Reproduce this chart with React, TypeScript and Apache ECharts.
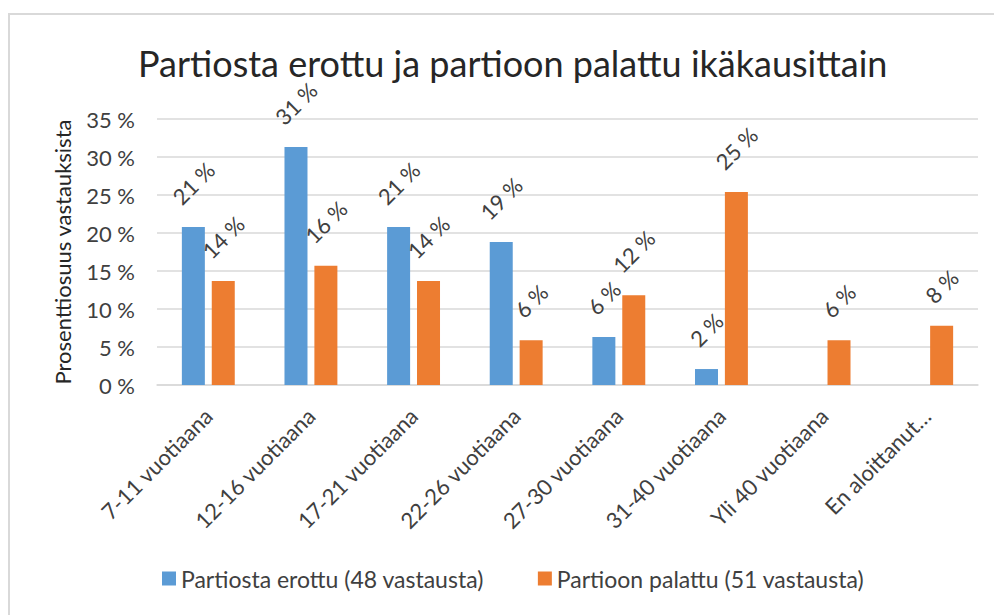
import React, { useEffect, useRef } from "react";
import * as echarts from "echarts";

const categories = [
  "7-11 vuotiaana",
  "12-16 vuotiaana",
  "17-21 vuotiaana",
  "22-26 vuotiaana",
  "27-30 vuotiaana",
  "31-40 vuotiaana",
  "Yli 40 vuotiaana",
  "En aloittanut…",
];
const erottu: (number | null)[] = [20.8, 31.3, 20.8, 18.8, 6.3, 2.1, null, null];
const palattu: (number | null)[] = [13.7, 15.7, 13.7, 5.9, 11.8, 25.4, 5.9, 7.8];
const seriesNames = ["Partiosta erottu (48 vastausta)", "Partioon palattu (51 vastausta)"];
const yMin = 0;
const yMax = 35;
const yStep = 5;

const FONT = "Lato, 'Noto Sans', sans-serif";
const LABEL_SIZE = 22;

function measure(text: string, size: number): number {
  const c = document.createElement("canvas");
  const ctx = c.getContext("2d");
  if (!ctx) return text.length * size * 0.5;
  ctx.font = `${size}px Lato`;
  return ctx.measureText(text).width;
}

const fmt = (v: number) => `${Math.round(v)} %`;

function buildData(values: (number | null)[]) {
  return values.map((v) => {
    if (v === null) return { value: null };
    const w = measure(fmt(v), LABEL_SIZE);
    return {
      value: v,
      label: { distance: 21 + 0.354 * (w + 0.7 * LABEL_SIZE) },
    };
  });
}

export default function App() {
  const ref = useRef<HTMLDivElement>(null);
  useEffect(() => {
    if (!ref.current) return;
    const chart = echarts.init(ref.current, undefined, { renderer: "svg" });
    const labelCfg = {
      show: true,
      position: "top",
      rotate: 45,
      align: "center",
      verticalAlign: "middle",
      fontFamily: FONT,
      fontSize: LABEL_SIZE,
      color: "#404040",
      formatter: (p: any) => (p.value == null ? "" : fmt(p.value)),
    };
    chart.setOption({
      animation: false,
      backgroundColor: "#ffffff",
      textStyle: { fontFamily: FONT },
      graphic: [
        {
          type: "rect",
          shape: { x: 9, y: 14, width: 1000, height: 620 },
          style: { fill: "none", stroke: "#d9d9d9", lineWidth: 2 },
          silent: true,
        },
      ],
      title: {
        text: "Partiosta erottu ja partioon palattu ikäkausittain",
        left: 133,
        top: 40,
        textStyle: { fontFamily: FONT, fontSize: 36, fontWeight: "normal", color: "#262626" },
      },
      legend: {
        bottom: 20,
        left: 157,
        itemWidth: 14,
        itemHeight: 14,
        itemGap: 54,
        icon: "rect",
        textStyle: { fontFamily: FONT, fontSize: 23, color: "#404040" },
        data: seriesNames,
      },
      grid: { left: 157, right: 16, top: 119, bottom: 230, containLabel: false },
      xAxis: {
        type: "category",
        data: categories,
        axisLine: { lineStyle: { color: "#d9d9d9", width: 1.5 } },
        axisTick: { show: false },
        axisLabel: {
          interval: 0,
          rotate: 45,
          margin: 27,
          fontFamily: FONT,
          fontSize: 22,
          color: "#404040",
        },
      },
      yAxis: {
        type: "value",
        min: yMin,
        max: yMax,
        interval: yStep,
        name: "Prosenttiosuus vastauksista",
        nameLocation: "middle",
        nameGap: 84,
        nameTextStyle: { fontFamily: FONT, fontSize: 22, color: "#262626" },
        axisLine: { show: false },
        axisTick: { show: false },
        splitLine: { lineStyle: { color: "#d9d9d9", width: 1.5 } },
        axisLabel: {
          formatter: "{value} %",
          fontFamily: FONT,
          fontSize: 22,
          color: "#404040",
          margin: 22,
        },
      },
      series: [
        {
          name: seriesNames[0],
          type: "bar",
          barWidth: 23,
          barGap: "30%",
          itemStyle: { color: "#5b9bd5" },
          label: labelCfg,
          data: buildData(erottu),
        },
        {
          name: seriesNames[1],
          type: "bar",
          barWidth: 23,
          barGap: "30%",
          itemStyle: { color: "#ed7d31" },
          label: labelCfg,
          data: buildData(palattu),
        },
      ],
    });
    return () => chart.dispose();
  }, []);
  return (
    <div
      ref={ref}
      style={{ position: "fixed", left: 0, top: 0, width: 994, height: 615 }}
    />
  );
}
